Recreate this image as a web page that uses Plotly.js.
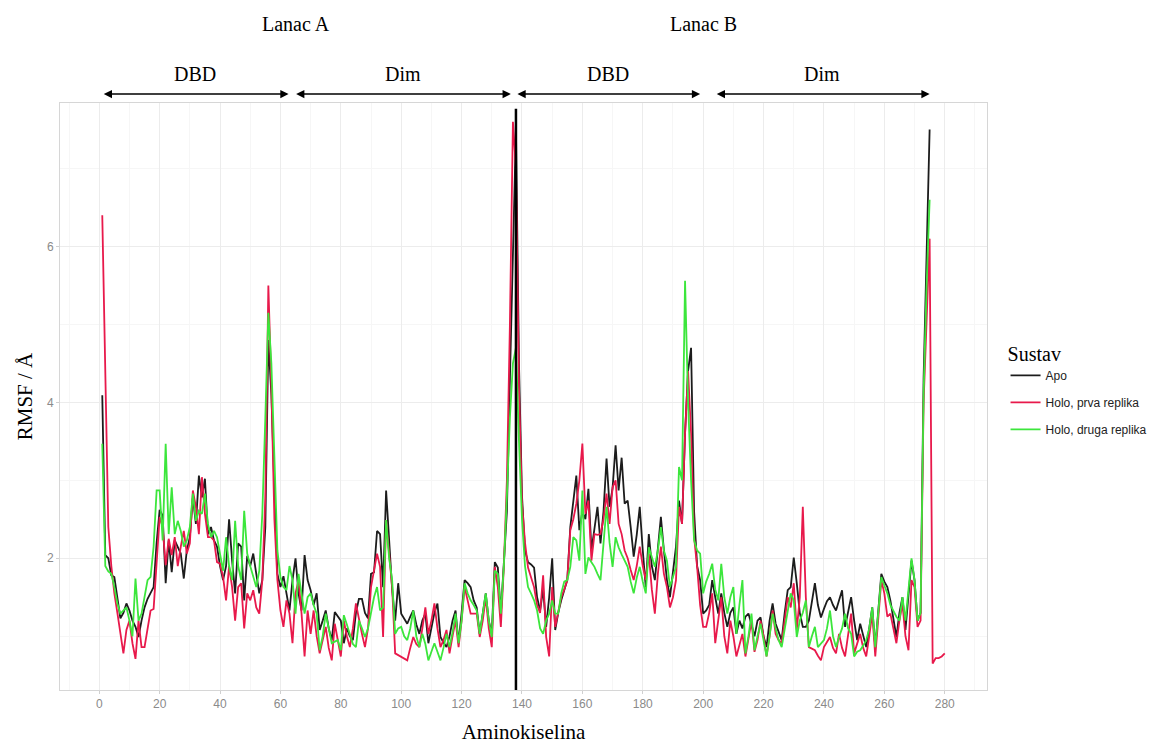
<!DOCTYPE html>
<html>
<head>
<meta charset="utf-8">
<script src="https://cdn.plot.ly/plotly-3.0.1.min.js"></script>
<style>html,body{margin:0;padding:0;background:#fff;}#chart{width:1168px;height:744px;}</style>
</head>
<body>
<div id="chart"></div>
<script>
// RMSF values (Å) per residue
const apo = [
4.09,2.04,2.0,1.78,1.76,1.5,1.23,1.3,1.42,1.33,
1.2,1.12,0.99,1.2,1.37,1.48,1.55,1.63,2.2,2.62,
2.55,1.68,2.23,1.82,2.23,2.15,2.06,1.74,2.1,2.27,
2.78,2.44,3.06,2.78,3.02,2.31,2.4,2.23,2.15,1.9,
1.72,1.9,2.5,1.97,1.55,2.19,2.15,1.46,2.03,1.9,
2.06,1.8,1.55,1.72,2.4,4.8,4.1,2.9,1.8,1.63,
1.77,1.55,1.33,1.72,2.0,1.55,1.33,2.04,1.72,1.59,
1.4,1.55,1.08,1.2,1.33,1.1,0.95,1.31,1.25,1.2,
0.91,1.1,1.0,0.95,1.3,1.48,1.48,1.3,1.23,1.8,
1.82,2.35,2.31,1.63,2.87,2.2,1.6,1.2,1.68,1.29,
1.22,1.16,1.25,1.33,1.15,1.03,1.2,1.29,0.91,1.1,
1.3,1.42,0.99,0.92,0.86,1.0,1.2,1.33,0.91,1.3,
1.72,1.68,1.63,1.46,1.37,1.03,1.3,1.55,1.2,1.03,
1.95,1.88,1.29,1.9,2.6,4.3,6.0,7.5,4.5,2.8,
2.1,1.95,1.92,1.88,1.5,1.33,1.6,1.12,1.5,2.0,
1.08,1.3,1.46,1.6,1.72,2.4,2.7,3.06,2.36,2.6,
2.5,2.89,2.1,2.4,2.66,2.19,2.6,3.28,2.66,2.9,
3.45,2.87,3.29,2.7,2.74,2.4,2.02,2.3,2.66,2.1,
1.63,2.31,1.9,1.72,2.1,2.53,2.1,1.72,1.5,1.8,
2.15,2.74,2.44,3.6,4.4,4.7,2.6,1.9,1.72,1.29,
1.33,1.4,1.72,1.5,1.29,1.55,1.3,1.12,1.3,1.37,
1.03,1.2,1.1,1.25,1.29,1.15,1.0,1.2,1.24,1.0,
0.86,1.2,1.42,1.16,1.05,0.95,1.3,1.59,1.63,2.01,
1.68,1.3,1.12,1.12,1.2,1.45,1.68,1.4,1.24,1.35,
1.45,1.5,1.4,1.33,1.45,1.59,1.12,1.3,1.5,1.2,
0.95,1.16,1.0,0.86,1.1,1.37,0.86,1.3,1.8,1.7,
1.63,1.46,1.2,0.99,1.3,1.5,1.08,1.5,1.97,1.72,
1.2,1.3,4.3,5.9,7.5
];
const holo1 = [
6.4,4.6,2.4,1.9,1.55,1.3,1.03,0.78,1.08,1.2,
0.91,0.71,1.2,0.86,0.86,1.12,1.33,1.35,1.97,2.53,
2.4,1.91,2.25,2.04,2.27,1.9,2.15,2.35,2.06,2.19,
2.87,2.66,2.31,3.04,2.57,2.27,2.27,2.23,1.95,1.93,
1.76,1.46,1.9,1.63,1.2,1.63,1.68,1.1,1.55,1.46,
1.59,1.37,1.29,1.72,2.78,5.5,4.2,2.5,1.72,1.33,
1.12,1.46,1.29,0.91,1.55,1.72,1.29,0.74,1.33,1.03,
1.33,1.0,0.78,0.95,1.12,0.85,0.69,1.16,0.95,0.74,
1.2,1.0,0.86,1.1,1.42,1.2,1.03,0.86,1.1,1.63,
1.85,2.06,1.89,0.99,2.49,2.0,1.63,0.78,0.76,0.74,
0.72,0.69,0.85,0.99,0.9,0.86,1.1,1.37,1.03,1.2,
1.42,1.1,0.86,0.95,1.08,0.78,1.0,1.2,0.86,1.2,
1.63,1.45,1.29,1.29,1.29,0.99,1.2,1.5,1.1,0.86,
1.89,1.63,1.12,1.9,3.0,5.0,7.6,7.0,4.2,2.7,
2.2,1.88,1.75,1.63,1.4,1.3,1.78,0.99,0.74,1.63,
1.12,1.3,1.5,1.6,1.72,2.36,2.5,2.7,3.0,3.47,
2.57,2.74,1.97,2.31,2.3,2.31,2.5,2.83,2.44,2.91,
3.0,2.44,2.31,2.1,2.0,1.85,1.72,1.9,2.15,1.9,
1.72,2.06,1.6,1.29,1.8,2.15,1.8,1.63,1.37,1.5,
1.72,2.66,2.44,3.6,4.4,3.6,2.27,1.89,1.4,1.12,
1.12,1.3,1.55,0.91,1.2,1.5,1.0,0.78,1.2,1.0,
0.74,0.9,1.03,0.74,0.95,1.2,0.8,0.95,1.2,1.0,
0.74,1.0,1.33,1.03,0.95,0.91,1.2,1.5,1.37,1.68,
1.08,1.5,2.66,1.5,0.86,0.84,0.82,0.75,0.69,0.86,
0.92,0.99,0.85,0.78,1.03,0.85,0.74,1.0,1.29,0.78,
0.9,1.03,0.85,0.74,1.0,1.29,0.74,1.2,1.72,1.55,
1.25,1.29,1.1,0.91,1.2,1.42,1.0,0.82,1.72,1.63,
1.12,1.2,4.0,5.0,6.1,0.65,0.72,0.72,0.74,0.78
];
const holo2 = [
3.47,1.9,1.83,1.8,1.63,1.42,1.29,1.33,1.37,1.2,
1.0,1.74,1.2,1.29,1.5,1.72,1.76,2.15,2.87,2.87,
2.23,3.47,2.31,2.91,2.31,2.48,2.35,2.15,2.23,2.4,
2.83,2.48,2.61,2.57,2.83,2.44,2.27,2.35,2.27,2.06,
1.84,2.27,1.9,1.72,2.48,1.9,1.72,2.61,2.06,1.9,
1.76,1.63,1.84,2.57,3.8,5.15,4.5,3.2,2.1,1.76,
1.63,1.59,1.9,1.72,1.29,1.8,1.55,1.29,1.5,1.55,
1.4,1.29,0.82,1.0,1.29,1.1,0.91,0.93,0.95,0.82,
1.27,1.15,1.03,0.9,0.86,1.2,1.1,0.99,1.1,1.29,
1.5,1.63,1.33,1.37,2.49,2.0,1.72,1.03,1.1,1.12,
1.0,0.95,1.1,1.33,1.0,0.86,1.03,0.9,0.69,0.8,
0.91,0.8,0.69,0.85,1.03,0.86,1.05,1.29,0.91,1.2,
1.68,1.55,1.46,1.4,1.33,1.03,1.3,1.55,1.2,0.99,
1.84,1.8,1.29,1.9,2.8,3.8,4.5,4.7,3.5,2.5,
1.9,1.63,1.55,1.46,1.33,1.1,1.03,1.2,1.29,1.46,
1.29,1.29,1.55,1.7,1.72,1.89,2.27,2.23,1.97,2.87,
1.8,2.01,1.95,1.89,1.8,1.72,2.19,2.66,2.2,1.89,
2.27,2.14,2.05,1.97,1.89,1.7,1.55,1.75,1.89,1.7,
1.55,2.14,2.0,1.89,2.1,2.4,2.1,1.97,1.63,1.75,
1.89,3.17,3.0,5.56,4.0,3.0,2.23,2.1,2.06,1.55,
1.7,1.8,1.93,1.6,1.46,1.93,1.5,1.29,1.5,1.63,
1.03,1.4,1.72,0.78,1.0,1.29,0.82,1.0,1.16,0.95,
0.74,1.0,1.29,1.1,0.95,0.86,1.1,1.29,1.55,1.46,
0.99,1.2,1.3,1.46,0.86,1.0,1.12,0.86,0.9,0.95,
1.1,1.33,1.0,0.86,0.99,1.1,1.29,1.1,1.03,0.74,
0.8,0.82,0.88,0.95,1.1,1.37,0.86,1.3,1.76,1.65,
1.55,1.4,1.33,1.25,1.2,1.5,1.2,1.6,2.0,1.72,
1.2,1.3,4.1,5.5,6.6
];
const seriesNames = ["Apo", "Holo, prva replika", "Holo, druga replika"];
const chainLabels = ["Lanac A", "Lanac B"];
const chainCentres = [65, 200];
const domainLabels = ["DBD", "Dim", "DBD", "Dim"];
const domainStart = [1, 64.7, 138, 204];
const domainEnd = [62.7, 136.3, 199, 275];
const chainBoundary = 138;
const xTicks = [0,20,40,60,80,100,120,140,160,180,200,220,240,260,280];
const yTicks = [2,4,6];

const residues = arr => arr.map((_, i) => i + 1);
const colors = ["#1c1c1c", "#e8194b", "#3ce63c"];
const data = [apo, holo1, holo2].map((vals, k) => ({
  x: residues(vals), y: vals, type: "scatter", mode: "lines",
  name: seriesNames[k], legendgroup: "g" + k,
  line: {color: colors[k], width: 1.8}, hoverinfo: "skip"
}));

const serif = "Liberation Serif, Times New Roman, serif";
const sans = "Liberation Sans, Arial, sans-serif";
const annotations = [];
chainLabels.forEach((t, i) => annotations.push({
  text: t, x: chainCentres[i], xref: "x", y: 1.134, yref: "paper",
  showarrow: false, font: {family: serif, size: 20, color: "#000"}, yanchor: "middle"
}));
domainLabels.forEach((t, i) => {
  annotations.push({
    text: t, x: (domainStart[i] + domainEnd[i]) / 2, xref: "x", y: 1.049, yref: "paper",
    showarrow: false, font: {family: serif, size: 20, color: "#000"}, yanchor: "middle"
  });
  annotations.push({
    text: "", x: domainEnd[i], xref: "x", y: 1.0153, yref: "paper",
    ax: domainStart[i], axref: "x", ay: 0, ayref: "pixel",
    showarrow: true, arrowhead: 2, arrowside: "end+start", arrowsize: 1.1,
    arrowwidth: 1.5, arrowcolor: "#000", standoff: 0, startstandoff: 0
  });
});

const layout = {
  width: 1168, height: 744,
  margin: {l: 60, r: 181, t: 103, b: 54},
  paper_bgcolor: "#fff", plot_bgcolor: "#fff",
  font: {family: sans, color: "#333"},
  xaxis: {
    range: [-13, 294], tickmode: "array", tickvals: xTicks,
    ticks: "outside", ticklen: 3, tickcolor: "#d0d0d0",
    tickfont: {family: sans, size: 12, color: "#8a8a8a"},
    showgrid: true, gridcolor: "#ececec", gridwidth: 1,
    minor: {dtick: 10, tick0: 0, showgrid: true, gridcolor: "#f6f6f6", gridwidth: 1},
    zeroline: false, showline: true, mirror: true, linecolor: "#d6d6d6", linewidth: 1,
    title: {text: "Aminokiselina", font: {family: serif, size: 21, color: "#000"}, standoff: 14}
  },
  yaxis: {
    range: [0.31, 7.84], tickmode: "array", tickvals: yTicks,
    ticks: "outside", ticklen: 3, tickcolor: "#d0d0d0",
    tickfont: {family: sans, size: 12, color: "#8a8a8a"},
    showgrid: true, gridcolor: "#ececec", gridwidth: 1,
    minor: {dtick: 1, tick0: 0, showgrid: true, gridcolor: "#f6f6f6", gridwidth: 1},
    zeroline: false, showline: true, mirror: true, linecolor: "#d6d6d6", linewidth: 1,
    title: {text: "RMSF / Å", font: {family: serif, size: 21, color: "#000"}, standoff: 8}
  },
  showlegend: true,
  legend: {
    x: 1.02, xanchor: "left", y: 0.605, yanchor: "top",
    title: {text: "Sustav", font: {family: serif, size: 20, color: "#000"}},
    font: {family: sans, size: 12, color: "#222"},
    traceorder: "grouped", tracegroupgap: 8, bgcolor: "rgba(0,0,0,0)"
  },
  shapes: [{
    type: "line", xref: "x", yref: "paper", x0: chainBoundary, x1: chainBoundary,
    y0: 0, y1: 0.99, line: {color: "#000", width: 2.5}
  }],
  annotations: annotations,
  hovermode: false
};
Plotly.newPlot("chart", data, layout, {staticPlot: true, displayModeBar: false});
</script>
</body>
</html>
